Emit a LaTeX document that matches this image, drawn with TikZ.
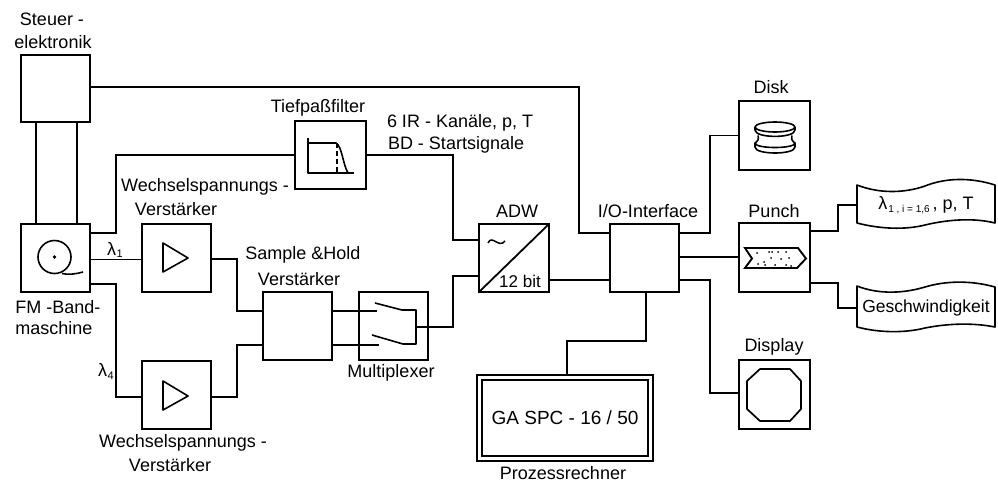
\documentclass[tikz,border=0pt]{standalone}
\usepackage{fontspec}
\setmainfont{Liberation Sans}
\tikzset{
  x=1pt,y=-1pt,
  blk/.style n args={2}{draw,line width=1.7pt,inner sep=0pt,outer sep=0pt,minimum width=#1pt,minimum height=#2pt},
  wire/.style={line width=1.1pt,line join=miter},
  icon/.style={line width=1.6pt,line join=round},
  lbl/.style={inner sep=0pt,outer sep=0pt,font=\fontsize{18}{20}\selectfont,anchor=center},
}
\begin{document}
\begin{tikzpicture}
\useasboundingbox (0,0) rectangle (998,483);
% blocks
\node[blk={69}{67}] (ctrl) at (55.5,88.5) {};
\node[blk={69}{68}] (fm) at (55.5,258) {};
\node[blk={69}{68}] (ampa) at (176.5,258) {};
\node[blk={69}{68}] (ampb) at (176.5,395) {};
\node[blk={69}{68}] (sh) at (297.5,326) {};
\node[blk={69}{68}] (mux) at (393.5,326) {};
\node[blk={71}{68}] (tp) at (330.5,155) {};
\node[blk={70}{68}] (adw) at (514,258) {};
\node[blk={69}{68}] (io) at (644.5,258) {};
\node[blk={71}{69}] (disk) at (774.5,135.5) {};
\node[blk={71}{69}] (punch) at (774.5,257.5) {};
\node[blk={71}{69}] (disp) at (774.5,394.5) {};
\node[blk={176}{86}] (ga) at (565,418) {};
\node[blk={166}{76},line width=1.5pt,font=\fontsize{19}{21}\selectfont] (gai) at (565,418) {GA SPC - 16 / 50};
\node[inner sep=0pt,outer sep=0pt,minimum width=138pt,minimum height=38pt,font=\fontsize{18}{20}\selectfont] (ta) at (926,205) {λ\kern1pt{\fontsize{10}{12}\selectfont\raisebox{-3pt}{1 , i = 1,6}}\,, p, T};
\node[inner sep=0pt,outer sep=0pt,minimum width=138pt,minimum height=40pt,font=\fontsize{17.5}{19}\selectfont] (tb) at (926,308) {Geschwindigkeit};
% tapes
\draw[icon] (857,185) .. controls (880,194) and (905,193) .. (925,186) .. controls (945,178) and (970,177) .. (995,185) -- (995,223) .. controls (975,218) and (950,219) .. (925,225) .. controls (905,230) and (880,229) .. (857,223) -- cycle;
\draw[icon] (857,286) .. controls (880,295) and (905,293) .. (925,287) .. controls (945,281) and (970,280) .. (995,287) -- (995,327) .. controls (975,323) and (950,323) .. (925,328) .. controls (905,333) and (880,333) .. (857,327) -- cycle;
% bend coordinates
\coordinate (b1) at (579,150);
\coordinate (b2) at (116,190);
\coordinate (b3) at (116,340);
\coordinate (b4) at (237,280);
\coordinate (b5) at (237,370);
\coordinate (b6) at (453,200);
\coordinate (b7) at (453,300);
\coordinate (b8) at (710,180);
\coordinate (b9) at (710,340);
\coordinate (b10) at (838,218);
\coordinate (b11) at (838,296);
\coordinate (b12) at (646,341);
\coordinate (b13) at (567,341);
\coordinate (ma) at (377,311);
\coordinate (mb) at (379,345);
\coordinate (mo) at (416,327);
% connectors
\draw[wire] ([yshift=1.5pt]ctrl.east) -| (b1) |- ([yshift=25pt]io.west);
\draw[wire] ([xshift=-19.5pt]ctrl.south) -- ([xshift=-19.5pt]fm.north);
\draw[wire] ([xshift=21.5pt]ctrl.south) -- ([xshift=21.5pt]fm.north);
\draw[wire] ([yshift=25pt]fm.east) -| (b2) |- (tp.west);
\draw[wire] ([yshift=-1.5pt]fm.east) -- ([yshift=-1.5pt]ampa.west);
\draw[wire] ([yshift=-26pt]fm.east) -| (b3) |- ([yshift=-2pt]ampb.west);
\draw[wire] ([yshift=-1pt]ampa.east) -| (b4) |- ([yshift=15pt]sh.west);
\draw[wire] ([yshift=-2pt]ampb.east) -| (b5) |- ([yshift=-19pt]sh.west);
\draw[wire] ([yshift=15pt]sh.east) -- (ma);
\draw[wire] ([yshift=-19pt]sh.east) -- (mb);
\draw[wire] (tp.east) -| (b6) |- ([yshift=18pt]adw.west);
\draw[wire] (mo) -| (b7) |- ([yshift=-18pt]adw.west);
\draw[wire] ([yshift=-22pt]adw.east) -- ([yshift=-22pt]io.west);
\draw[wire] ([yshift=25pt]io.east) -| (b8) |- (disk.west);
\draw[wire] ([yshift=1pt]io.east) -- ([yshift=.5pt]punch.west);
\draw[wire] ([yshift=-22pt]io.east) -| (b9) |- ([yshift=1.5pt]disp.west);
\draw[wire] (punch.east |- 0,231) -| (b10) |- (ta.west);
\draw[wire] (punch.east |- 0,283) -| (b11) |- (tb.west);
\draw[wire] (io.south -| b12) -- (b12) -- (b13) -- (ga.north -| b13);
% tape machine
\draw[icon] (54.5,257) circle (16.5);
\fill (54.5,257) circle (1.8);
\draw[icon] (62,273.5) .. controls (68,275) and (76,274) .. (83,272);
% amplifiers
\draw[icon] (163,243) -- (163,272) -- (188,258) -- cycle;
\draw[icon] (163,381) -- (163,410) -- (188,396) -- cycle;
% filter
\draw[icon] (308,138) -- (308,173) -- (354,173);
\draw[icon] (308,143) -- (336,143) .. controls (342,146) and (343,165) .. (348,173);
\draw[line width=1.3pt,dash pattern=on 5pt off 3pt] (337,143) -- (337,173);
% multiplexer
\draw[icon] (375,303) -- (402,310) -- (416,310) -- (416,344) -- (403,344) -- (372,335);
% ADW
\draw[line width=1.8pt] (adw.south west) -- (adw.north east);
\draw[line width=1.5pt] (488,243) .. controls (492,234) and (499,249) .. (505,241);
\node[lbl,font=\fontsize{17}{19}\selectfont] (bit) at (520,281) {12 bit};
% disk
\draw[icon] (775,127) ellipse [x radius=20,y radius=5];
\draw[icon] (755,127) -- (755,130) .. controls (755,138.5) and (795,138.5) .. (795,130) -- (795,127);
\draw[icon] (758,135.5) .. controls (759,139) and (758,141) .. (755,143);
\draw[icon] (792,135.5) .. controls (791,139) and (792,141) .. (795,143);
\draw[icon] (755,143) .. controls (755,149) and (795,149) .. (795,143) -- (795,147) .. controls (795,155) and (755,155) .. (755,147) -- cycle;
% punch tape
\draw[line width=1.9pt,line join=miter] (745,248) -- (798,248) -- (806,258.5) -- (797,268) -- (745,268) -- (752,258.5) -- cycle;
\foreach \p in {(757,253),(764,262),(769,252),(771,258),(775,265),(778,252),(781,259),(786,252),(789,258),(786,265),(765,265),(791,266),(758,264),(772,252)}
  \fill \p circle (1);
% display
\draw[icon,line width=1.7pt] (760,369) -- (790,369) -- (801,381) -- (801,409) -- (790,421) -- (760,421) -- (747,409) -- (747,381) -- cycle;
% labels
\node[lbl] (t1) at (52,19) {Steuer -};
\node[lbl] (t2) at (53,42) {elektronik};
\node[lbl] (t3) at (58,307) {FM -Band-};
\node[lbl] (t4) at (54,328) {maschine};
\node[lbl] (t5) at (115,250) {λ\kern.5pt{\fontsize{11}{12}\selectfont\raisebox{-2pt}{1}}};
\node[lbl] (t6) at (106,371) {λ\kern.5pt{\fontsize{11}{12}\selectfont\raisebox{-3pt}{4}}};
\node[lbl] (t7) at (205,187) {Wechselspannungs -};
\node[lbl] (t8) at (176,209) {Verstärker};
\node[lbl] (t9) at (183,443) {Wechselspannungs -};
\node[lbl] (t10) at (170,465) {Verstärker};
\node[lbl] (t11) at (303,255) {Sample \&Hold};
\node[lbl] (t12) at (299,279) {Verstärker};
\node[lbl] (t13) at (391,373) {Multiplexer};
\node[lbl] (t14) at (318,108) {Tiefpaßfilter};
\node[lbl,anchor=west] (t15) at (387,123) {6 IR - Kanäle, p, T};
\node[lbl,anchor=west] (t16) at (388,145) {BD - Startsignale};
\node[lbl] (t17) at (517,211) {ADW};
\node[lbl] (t18) at (648,211) {I/O-Interface};
\node[lbl] (t19) at (771,87) {Disk};
\node[lbl] (t20) at (774,211) {Punch};
\node[lbl] (t21) at (774,347) {Display};
\node[lbl] (t22) at (563,473) {Prozessrechner};
\end{tikzpicture}
\end{document}
